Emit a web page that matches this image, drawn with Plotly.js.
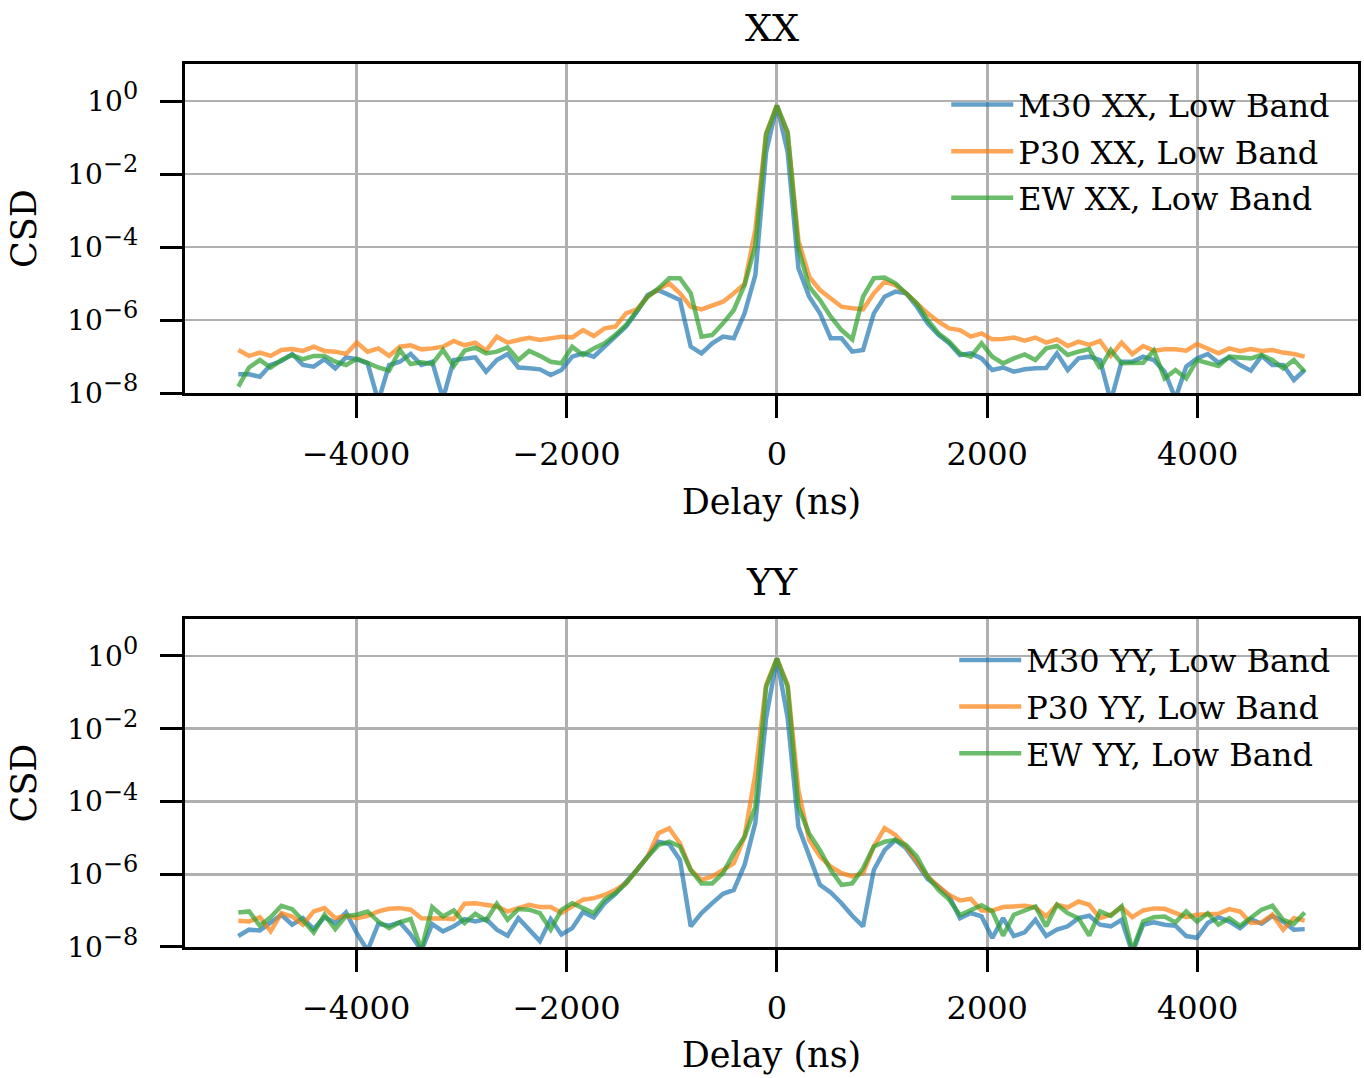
<!DOCTYPE html>
<html>
<head>
<meta charset="utf-8">
<script src="https://cdn.plot.ly/plotly-3.0.1.min.js"></script>
<style>html,body{margin:0;padding:0;background:#fff;}</style>
</head>
<body>
<div id="chart" style="width:1364px;height:1078px;"></div>
<script>
// Delay axis (ns)
const delay = [
-5120, -5017.6, -4915.2, -4812.8, -4710.4, -4608, -4505.6, -4403.2, -4300.8, -4198.4,
-4096, -3993.6, -3891.2, -3788.8, -3686.4, -3584, -3481.6, -3379.2, -3276.8, -3174.4,
-3072, -2969.6, -2867.2, -2764.8, -2662.4, -2560, -2457.6, -2355.2, -2252.8, -2150.4,
-2048, -1945.6, -1843.2, -1740.8, -1638.4, -1536, -1433.6, -1331.2, -1228.8, -1126.4,
-1024, -921.6, -819.2, -716.8, -614.4, -512, -409.6, -307.2, -204.8, -102.4,
0, 102.4, 204.8, 307.2, 409.6, 512, 614.4, 716.8, 819.2, 921.6,
1024, 1126.4, 1228.8, 1331.2, 1433.6, 1536, 1638.4, 1740.8, 1843.2, 1945.6,
2048, 2150.4, 2252.8, 2355.2, 2457.6, 2560, 2662.4, 2764.8, 2867.2, 2969.6,
3072, 3174.4, 3276.8, 3379.2, 3481.6, 3584, 3686.4, 3788.8, 3891.2, 3993.6,
4096, 4198.4, 4300.8, 4403.2, 4505.6, 4608, 4710.4, 4812.8, 4915.2, 5017.6
];

// XX polarisation
const m30XX = [
3.25e-8, 3.25e-8, 2.8e-8, 5.85e-8, 7.5e-8, 1.17e-7, 5.85e-8, 5.26e-8, 8.4e-8, 4.74e-8,
9.5e-8, 8.4e-8, 6.5e-8, 6e-9, 5.85e-8, 7.2e-8, 1.17e-7, 5.85e-8, 7.2e-8, 7e-9,
8.0e-8, 8.7e-8, 9.5e-8, 3.84e-8, 8.0e-8, 1.17e-7, 5.0e-8, 4.74e-8, 4.45e-8, 3.11e-8,
4.27e-8, 9.9e-8, 1.22e-7, 9.9e-8, 1.86e-7, 3.5e-7, 6.6e-7, 1.69e-6, 4.84e-6, 6.6e-6,
4.84e-6, 3.53e-6, 1.86e-7, 1.22e-7, 2.3e-7, 3.5e-7, 3.15e-7, 1.52e-6, 1.7e-5, 0.04,
0.75, 0.04, 2.6e-5, 4.36e-6, 1.52e-6, 3.15e-7, 3.15e-7, 1.36e-7, 1.51e-7, 1.52e-6,
4.36e-6, 6.0e-6, 5.4e-6, 2.32e-6, 8.1e-7, 3.9e-7, 2.3e-7, 1.1e-7, 1.22e-7, 8.9e-8,
4.27e-8, 5.0e-8, 3.84e-8, 4.45e-8, 4.74e-8, 4.8e-8, 1.22e-7, 4.27e-8, 8.9e-8, 9.9e-8,
8.0e-8, 6e-9, 7.2e-8, 7.2e-8, 9.9e-8, 8.0e-8, 3.84e-8, 7e-9, 5.26e-8, 8.9e-8,
1.17e-7, 6.7e-8, 9.5e-8, 5.85e-8, 4.1e-8, 1.04e-7, 5.85e-8, 5.85e-8, 2.27e-8, 4.27e-8
];
const p30XX = [
1.51e-7, 1.04e-7, 1.28e-7, 1.04e-7, 1.51e-7, 1.6e-7, 1.42e-7, 1.86e-7, 1.42e-7, 1.36e-7,
1.17e-7, 2.4e-7, 1.36e-7, 1.67e-7, 1.04e-7, 1.86e-7, 2.03e-7, 1.57e-7, 1.67e-7, 1.86e-7,
2.66e-7, 2.03e-7, 2.4e-7, 1.45e-7, 3.49e-7, 2.4e-7, 2.83e-7, 3.28e-7, 2.83e-7, 3.15e-7,
3.5e-7, 3.35e-7, 5.3e-7, 3.65e-7, 5.9e-7, 6.6e-7, 1.52e-6, 1.96e-6, 4.36e-6, 6.9e-6,
1.01e-5, 5.4e-6, 2.32e-6, 1.96e-6, 2.58e-6, 3.18e-6, 5.4e-6, 9.7e-6, 3.0e-4, 0.13,
0.75, 0.13, 1.5e-4, 1.54e-5, 6.6e-6, 3.93e-6, 2.32e-6, 2.09e-6, 1.96e-6, 5.4e-6,
1.12e-5, 9.1e-6, 5.4e-6, 2.86e-6, 1.52e-6, 9.0e-7, 5.9e-7, 5.3e-7, 3.5e-7, 4.3e-7,
2.95e-7, 3.0e-7, 3.3e-7, 2.72e-7, 3.3e-7, 2.4e-7, 2.95e-7, 1.94e-7, 2.55e-7, 2.07e-7,
2.66e-7, 1.04e-7, 2.4e-7, 1.17e-7, 1.94e-7, 1.45e-7, 1.57e-7, 1.57e-7, 1.45e-7, 2.2e-7,
1.64e-7, 1.22e-7, 1.67e-7, 1.39e-7, 1.6e-7, 1.42e-7, 1.51e-7, 1.28e-7, 1.17e-7, 9.9e-8
];
const ewXX = [
1.49e-8, 5.0e-8, 8.0e-8, 5.0e-8, 8.0e-8, 1.1e-7, 8.4e-8, 1.04e-7, 1.04e-7, 7.2e-8,
5.85e-8, 8.7e-8, 6.7e-8, 5.0e-8, 4.1e-8, 1.51e-7, 6.2e-8, 6.9e-8, 6.2e-8, 1.51e-7,
5.5e-8, 1.45e-7, 1.75e-7, 1.22e-7, 1.36e-7, 1.78e-7, 8.0e-8, 1.42e-7, 1.04e-7, 7.2e-8,
6.5e-8, 1.86e-7, 1.1e-7, 1.67e-7, 2.3e-7, 3.9e-7, 7.3e-7, 1.88e-6, 4.36e-6, 7.4e-6,
1.39e-5, 1.39e-5, 5.4e-6, 3.5e-7, 3.9e-7, 8.1e-7, 1.88e-6, 9.1e-6, 1.1e-4, 0.12,
0.75, 0.14, 9e-5, 8.2e-6, 3.53e-6, 1.23e-6, 5.3e-7, 2.95e-7, 4.36e-6, 1.39e-5,
1.45e-5, 1.01e-5, 5.4e-6, 2.86e-6, 1.0e-6, 4.3e-7, 2.55e-7, 1.22e-7, 9.9e-8, 2.3e-7,
9.9e-8, 6.5e-8, 8.9e-8, 1.14e-7, 8.0e-8, 1.67e-7, 1.94e-7, 1.1e-7, 1.36e-7, 1.6e-7,
4.74e-8, 1.51e-7, 6.5e-8, 6.5e-8, 6.7e-8, 1.45e-7, 2.52e-8, 4.27e-8, 2.52e-8, 8.0e-8,
6.7e-8, 5.5e-8, 9.9e-8, 9.3e-8, 8.9e-8, 1.1e-7, 8.0e-8, 4.74e-8, 8.0e-8, 3.84e-8
];

// YY polarisation
const m30YY = [
2.0e-8, 3.0e-8, 2.85e-8, 4.55e-8, 7.7e-8, 4.1e-8, 6.2e-8, 3.1e-8, 6.6e-8, 4.55e-8,
8.9e-8, 2.4e-8, 8e-9, 4.35e-8, 3.84e-8, 4.74e-8, 2.2e-8, 8e-9, 4.27e-8, 2.7e-8,
3.7e-8, 5.85e-8, 5.0e-8, 5.85e-8, 3.0e-8, 2.05e-8, 6.2e-8, 3.0e-8, 1.45e-8, 5.85e-8,
2.2e-8, 3.3e-8, 9.2e-8, 6.5e-8, 1.6e-7, 2.9e-7, 5.9e-7, 1.31e-6, 3.05e-6, 7.85e-6,
6.8e-6, 2.47e-6, 3.7e-8, 8.6e-8, 1.6e-7, 2.9e-7, 3.7e-7, 1.8e-6, 2.6e-5, 0.02,
0.85, 0.02, 2.0e-5, 3.4e-6, 5.1e-7, 3.15e-7, 1.6e-7, 7.2e-8, 3.7e-8, 1.31e-6,
4.6e-6, 8.7e-6, 5.15e-6, 2.0e-6, 7.3e-7, 4.6e-7, 2.45e-7, 6.2e-8, 8.6e-8, 6.9e-8,
1.77e-8, 6.2e-8, 2.0e-8, 2.52e-8, 5.6e-8, 2.0e-8, 3.0e-8, 3.7e-8, 6.2e-8, 7.2e-8,
4.1e-8, 3.7e-8, 5.6e-8, 7e-9, 4.1e-8, 4.74e-8, 4.1e-8, 3.84e-8, 2.0e-8, 1.8e-8,
4.55e-8, 6.6e-8, 5.0e-8, 3.3e-8, 5.85e-8, 4.35e-8, 7.2e-8, 5.0e-8, 3.0e-8, 3.1e-8
];
const p30YY = [
5.3e-8, 5.0e-8, 6.6e-8, 2.7e-8, 8.5e-8, 6.9e-8, 4.1e-8, 9.5e-8, 1.17e-7, 6.2e-8,
7.2e-8, 6.2e-8, 7.2e-8, 9.5e-8, 1.12e-7, 1.17e-7, 1.06e-7, 6.2e-8, 6.1e-8, 6.2e-8,
5.85e-8, 1.54e-7, 1.6e-7, 1.45e-7, 1.3e-7, 9.5e-8, 1.17e-7, 1.45e-7, 1.25e-7, 1.25e-7,
8.6e-8, 1.3e-7, 2.0e-7, 2.2e-7, 2.7e-7, 3.7e-7, 5.6e-7, 1.31e-6, 3.05e-6, 1.34e-5,
1.84e-5, 7.1e-6, 1.31e-6, 7.0e-7, 8.7e-7, 1.31e-6, 2.0e-6, 1.08e-5, 5.7e-4, 0.16,
0.85, 0.16, 2.0e-4, 8.8e-6, 3.05e-6, 1.62e-6, 1.07e-6, 8.7e-7, 1.07e-6, 5.8e-6,
1.84e-5, 1.2e-5, 5.8e-6, 2.2e-6, 8.7e-7, 4.6e-7, 2.7e-7, 1.9e-7, 2.1e-7, 1.0e-7,
1.0e-7, 1.25e-7, 1.3e-7, 1.36e-7, 1.22e-7, 6.9e-8, 1.45e-7, 1.22e-7, 1.78e-7, 1.45e-7,
6.2e-8, 7.7e-8, 1.25e-7, 6.6e-8, 1.01e-7, 1.15e-7, 1.12e-7, 8.9e-8, 6.6e-8, 7.7e-8,
7.7e-8, 8.2e-8, 1.1e-7, 9.5e-8, 4.55e-8, 4.74e-8, 7.7e-8, 3.0e-8, 6.2e-8, 5.35e-8
];
const ewYY = [
8.9e-8, 9.5e-8, 3.84e-8, 6.6e-8, 1.36e-7, 1.1e-7, 5.35e-8, 2.52e-8, 7.7e-8, 3.1e-8,
7.2e-8, 7.7e-8, 9.5e-8, 5.0e-8, 3.3e-8, 4.8e-8, 5.85e-8, 8.5e-9, 1.25e-7, 6.9e-8,
1.01e-7, 4.55e-8, 8.2e-8, 5.35e-8, 1.54e-7, 5.6e-8, 1.1e-7, 1.06e-7, 8.5e-8, 3.0e-8,
1.05e-7, 1.6e-7, 1.17e-7, 8.6e-8, 2.0e-7, 3.0e-7, 5.6e-7, 1.31e-6, 3.05e-6, 6.3e-6,
7.85e-6, 5.8e-6, 1.31e-6, 5.6e-7, 5.6e-7, 1.07e-6, 3.8e-6, 1.08e-5, 7e-5, 0.14,
0.85, 0.14, 7e-5, 1.3e-5, 4.6e-6, 1.31e-6, 5.1e-7, 5.6e-7, 1.45e-6, 5.8e-6,
7.85e-6, 8.8e-6, 6.3e-6, 3.05e-6, 8.7e-7, 3.7e-7, 2.0e-7, 7.5e-8, 1.05e-7, 1.4e-7,
9.5e-8, 2.05e-8, 7.7e-8, 1.01e-7, 1.3e-7, 3.7e-8, 1.45e-7, 8.5e-8, 6.2e-8, 2.05e-8,
9.5e-8, 7.2e-8, 1.3e-7, 8e-9, 5.0e-8, 6.6e-8, 6.9e-8, 4.74e-8, 9.5e-8, 5.0e-8,
8.5e-8, 4.1e-8, 6.2e-8, 3.84e-8, 6.6e-8, 1.06e-7, 1.36e-7, 5.6e-8, 4.35e-8, 8.9e-8
];

const namesXX = ['M30 XX, Low Band', 'P30 XX, Low Band', 'EW XX, Low Band'];
const namesYY = ['M30 YY, Low Band', 'P30 YY, Low Band', 'EW YY, Low Band'];
const xTickVals = [-4000, -2000, 0, 2000, 4000];
const xTickText = ['\u22124000', '\u22122000', '0', '2000', '4000'];
const yTickVals = [1e-8, 1e-6, 1e-4, 1e-2, 1];
const yTickExp = ['\u22128', '\u22126', '\u22124', '\u22122', '0'];
const yTickText = yTickExp.map(e => '10<sup><span style="font-size:24px">' + e + '</span></sup>');

const colors = ['#1f77b4', '#ff7f0e', '#2ca02c'];
const FONT = 'DejaVu Serif, Liberation Serif, serif';

function mk(y, name, c, xa, ya, lg, grp) {
  return {x: delay, y: y, name: name, type: 'scatter', mode: 'lines',
    line: {color: c, width: 4.5}, opacity: 0.7, xaxis: xa, yaxis: ya, legend: lg, legendgroup: grp};
}
const data = [
  mk(m30XX, namesXX[0], colors[0], 'x', 'y', 'legend', 'a1'),
  mk(p30XX, namesXX[1], colors[1], 'x', 'y', 'legend', 'a2'),
  mk(ewXX, namesXX[2], colors[2], 'x', 'y', 'legend', 'a3'),
  mk(m30YY, namesYY[0], colors[0], 'x2', 'y2', 'legend2', 'b1'),
  mk(p30YY, namesYY[1], colors[1], 'x2', 'y2', 'legend2', 'b2'),
  mk(ewYY, namesYY[2], colors[2], 'x2', 'y2', 'legend2', 'b3')
];

function xax(anchor) {
  return {anchor: anchor, range: [-5626.9, 5524.5], tickmode: 'array', tickvals: xTickVals, ticktext: xTickText,
    ticks: 'outside', ticklen: 22, tickwidth: 3, tickcolor: 'black', showline: true, mirror: true,
    linewidth: 3.2, linecolor: 'black', showgrid: true, gridcolor: '#b0b0b0', gridwidth: 2.8, zeroline: false,
    tickfont: {size: 32, family: FONT, color: 'black'}, ticklabelstandoff: 8,
    title: {text: 'Delay (ns)', font: {size: 35, family: FONT, color: 'black'}, standoff: 18}};
}
function yax(anchor, dom, top) {
  return {anchor: anchor, domain: dom, type: 'log', range: [-8, top], tickmode: 'array', tickvals: yTickVals, ticktext: yTickText,
    ticks: 'outside', ticklen: 22, tickwidth: 3, tickcolor: 'black', showline: true, mirror: true,
    linewidth: 3.2, linecolor: 'black', showgrid: true, gridcolor: '#b0b0b0', gridwidth: 2.8, zeroline: false,
    tickfont: {size: 28, family: FONT, color: 'black'}, ticklabelstandoff: 16,
    title: {text: 'CSD', font: {size: 35, family: FONT, color: 'black'}, standoff: 21}};
}
const legBase = {bgcolor: 'rgba(0,0,0,0)', borderwidth: 0, font: {size: 32, family: FONT, color: 'black'},
  xanchor: 'right', yanchor: 'top', traceorder: 'grouped', tracegroupgap: 2, itemwidth: 62};

const layout = {
  width: 1364, height: 1078,
  margin: {l: 185, r: 6, t: 64, b: 131},
  paper_bgcolor: 'white', plot_bgcolor: 'white',
  font: {family: FONT, size: 32, color: 'black'},
  showlegend: true,
  xaxis: xax('y'),
  yaxis: yax('x', [0.6274, 1], 1.014),
  xaxis2: xax('y2'),
  yaxis2: yax('x2', [0, 0.3715], 1.016),
  legend: Object.assign({}, legBase, {x: 0.9806, y: 0.985}),
  legend2: Object.assign({}, legBase, {x: 0.9806, y: 0.356}),
  annotations: [
    {text: 'XX', xref: 'paper', yref: 'paper', x: 0.5, y: 1.0408, xanchor: 'center', yanchor: 'middle', showarrow: false,
     font: {size: 38, family: FONT, color: 'black'}},
    {text: 'YY', xref: 'paper', yref: 'paper', x: 0.5, y: 0.4134, xanchor: 'center', yanchor: 'middle', showarrow: false,
     font: {size: 38, family: FONT, color: 'black'}}
  ]
};

Plotly.newPlot('chart', data, layout, {displayModeBar: false, staticPlot: true});
</script>
</body>
</html>
